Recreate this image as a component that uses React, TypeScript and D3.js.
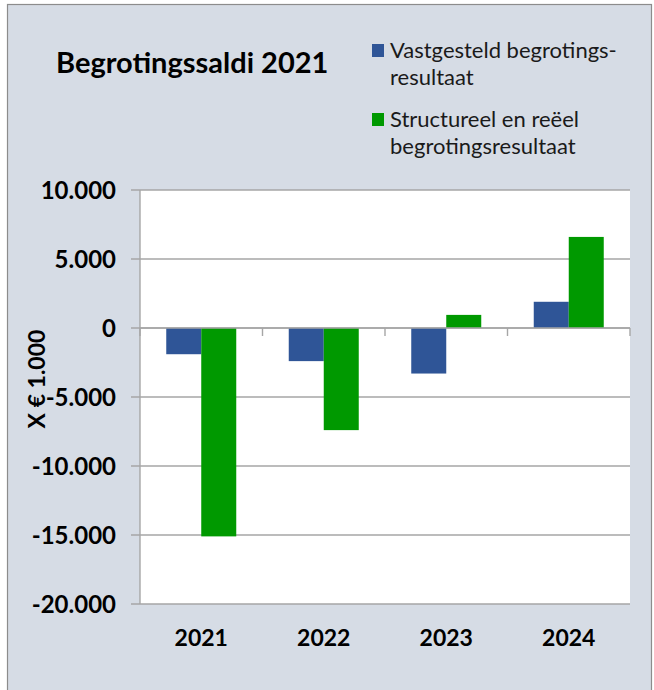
import React from "react";
import * as d3 from "d3";

const categories = ["2021", "2022", "2023", "2024"];
const seriesNames = ["Vastgesteld begrotings-resultaat", "Structureel en reëel begrotingsresultaat"];
const vastgesteld = [-1900, -2400, -3300, 1900];
const structureel = [-15100, -7400, 950, 6600];
const yTicks = [10000, 5000, 0, -5000, -10000, -15000, -20000];
const legendLines = [["Vastgesteld begrotings-", "resultaat"], ["Structureel en reëel", "begrotingsresultaat"]];
const colors = ["#2f5597", "#009900"];

const W = 654;
const H = 690;
const plot = { left: 140, right: 630, top: 190, bottom: 604 };

const locale = d3.formatLocale({ decimal: ",", thousands: ".", grouping: [3], currency: ["€", ""], minus: "-" });
const fmt = locale.format(",");

export default function App() {
  const y = d3.scaleLinear().domain([-20000, 10000]).range([plot.bottom, plot.top]);
  const x0 = d3
    .scaleBand()
    .domain(categories)
    .range([plot.left, plot.right])
    .paddingInner(0.4286)
    .paddingOuter(0.2143);
  const x1 = d3.scaleBand().domain(seriesNames).range([0, x0.bandwidth()]);
  const series = [vastgesteld, structureel];
  const step = x0.step();
  const catEdges = d3.range(categories.length + 1).map((i) => plot.left + i * step);
  const font = "Lato, 'Open Sans', sans-serif";
  const gridColor = "#a6a6a6";

  return (
    <svg width={W} height={H} style={{ position: "absolute", left: 0, top: 0 }}>
      <rect x={0} y={0} width={W} height={H} fill="#ffffff" />
      <rect x={7.5} y={4.5} width={644} height={700} fill="#d6dce5" stroke="#8c8c8c" strokeWidth={1.2} />
      <rect x={plot.left} y={plot.top} width={plot.right - plot.left} height={plot.bottom - plot.top} fill="#ffffff" />
      {yTicks.map((t) => (
        <g key={t}>
          <line x1={plot.left - 9} x2={plot.right} y1={y(t)} y2={y(t)} stroke={gridColor} strokeWidth={1.4} />
          <text
            x={116}
            y={y(t)}
            dy="0.36em"
            textAnchor="end"
            fontFamily={font}
            fontWeight="bold"
            fontSize={24}
            fill="#000"
          >
            {fmt(t)}
          </text>
        </g>
      ))}
      {series.map((vals, si) =>
        vals.map((v, ci) => {
          const xx = (x0(categories[ci]) as number) + (x1(seriesNames[si]) as number);
          return (
            <rect
              key={`${si}-${ci}`}
              x={xx}
              y={Math.min(y(v), y(0))}
              width={x1.bandwidth()}
              height={Math.abs(y(v) - y(0))}
              fill={colors[si]}
            />
          );
        })
      )}
      <line x1={plot.left} x2={plot.left} y1={plot.top} y2={plot.bottom} stroke={gridColor} strokeWidth={1.4} />
      <line x1={plot.left} x2={plot.right} y1={y(0)} y2={y(0)} stroke={gridColor} strokeWidth={1.4} />
      {catEdges.map((cx, i) => (
        <line key={i} x1={cx} x2={cx} y1={y(0)} y2={y(0) + 8} stroke={gridColor} strokeWidth={1.4} />
      ))}
      {categories.map((c) => (
        <text
          key={c}
          x={(x0(c) as number) + x0.bandwidth() / 2}
          y={646}
          textAnchor="middle"
          fontFamily={font}
          fontWeight="bold"
          fontSize={23}
          fill="#000"
        >
          {c}
        </text>
      ))}
      <text
        transform={`translate(45, 379) rotate(-90)`}
        textAnchor="middle"
        fontFamily={font}
        fontWeight="bold"
        fontSize={23}
        fill="#000"
      >
        X € 1.000
      </text>
      <text x={56} y={73} fontFamily={font} fontWeight="bold" fontSize={29} fill="#000">
        Begrotingssaldi 2021
      </text>
      {legendLines.map((lines, i) => (
        <g key={i}>
          <rect x={372} y={44 + i * 69} width={12} height={13} fill={colors[i]} />
          {lines.map((ln, j) => (
            <text key={j} x={390} y={58 + i * 69 + j * 27} fontFamily={font} fontSize={22} fill="#1a1a1a">
              {ln}
            </text>
          ))}
        </g>
      ))}
    </svg>
  );
}
